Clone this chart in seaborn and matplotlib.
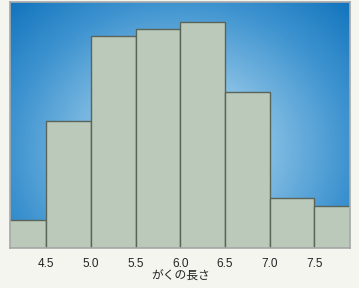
import numpy as np
import matplotlib
matplotlib.use("Agg")
import matplotlib.pyplot as plt
import seaborn as sns
from matplotlib.colors import LinearSegmentedColormap

# Data: histogram of sepal length (がくの長さ)
bin_edges = [4.0, 4.5, 5.0, 5.5, 6.0, 6.5, 7.0, 7.5, 8.0]
bin_centers = [4.25, 4.75, 5.25, 5.75, 6.25, 6.75, 7.25, 7.75]
counts = [4, 18, 30, 31, 32, 22, 7, 6]
tick_values = [4.5, 5.0, 5.5, 6.0, 6.5, 7.0, 7.5]
tick_labels = ["4.5", "5.0", "5.5", "6.0", "6.5", "7.0", "7.5"]
x_label = "がくの長さ"

sns.set_style("white")
plt.rcParams['font.family'] = ['Liberation Sans', 'Noto Sans CJK JP', 'DejaVu Sans']

fig = plt.figure(figsize=(3.59, 2.88), dpi=100, facecolor="#f5f5f0")
ax = fig.add_axes([0.029, 0.139, 0.946, 0.854])

# radial gradient background
ny, nx = 200, 300
yy, xx = np.mgrid[0:1:ny*1j, 0:1:nx*1j]
cx, cy = 0.5, 0.4
r = np.sqrt(((xx - cx) / 0.5) ** 2 + ((yy - cy) / 0.6) ** 2)
r = np.clip(r / r.max(), 0, 1)
cmap = LinearSegmentedColormap.from_list(
    "bg", [(0, "#c2e0f4"), (0.35, "#86bfe4"), (0.7, "#3f94d0"), (1, "#1274bd")])
ax.imshow(r, cmap=cmap, extent=[0, 1, 0, 1], transform=ax.transAxes,
          aspect="auto", zorder=0, origin="lower", interpolation="bilinear")

sns.histplot(x=bin_centers, weights=counts, bins=bin_edges, ax=ax,
             color="#bac9b9", alpha=1.0, edgecolor="#5b6459", linewidth=1.0,
             zorder=2)

ax.set_xlim(4.1, 7.9)
ax.set_ylim(0, 34.8)
ax.set_yticks([])
ax.set_ylabel("")
ax.set_xticks(tick_values)
ax.set_xticklabels(tick_labels, fontsize=8.5, color="#222222")
ax.tick_params(axis="x", length=4, width=0.8, color="#aaaaaa", pad=3, direction="out")
ax.set_xlabel(x_label, fontsize=8.5, color="#222222", labelpad=0)
for s in ax.spines.values():
    s.set_color("#a8a8a8")
    s.set_linewidth(1.2)
    s.set_zorder(3)

fig.savefig("out.png", dpi=100, facecolor=fig.get_facecolor())
